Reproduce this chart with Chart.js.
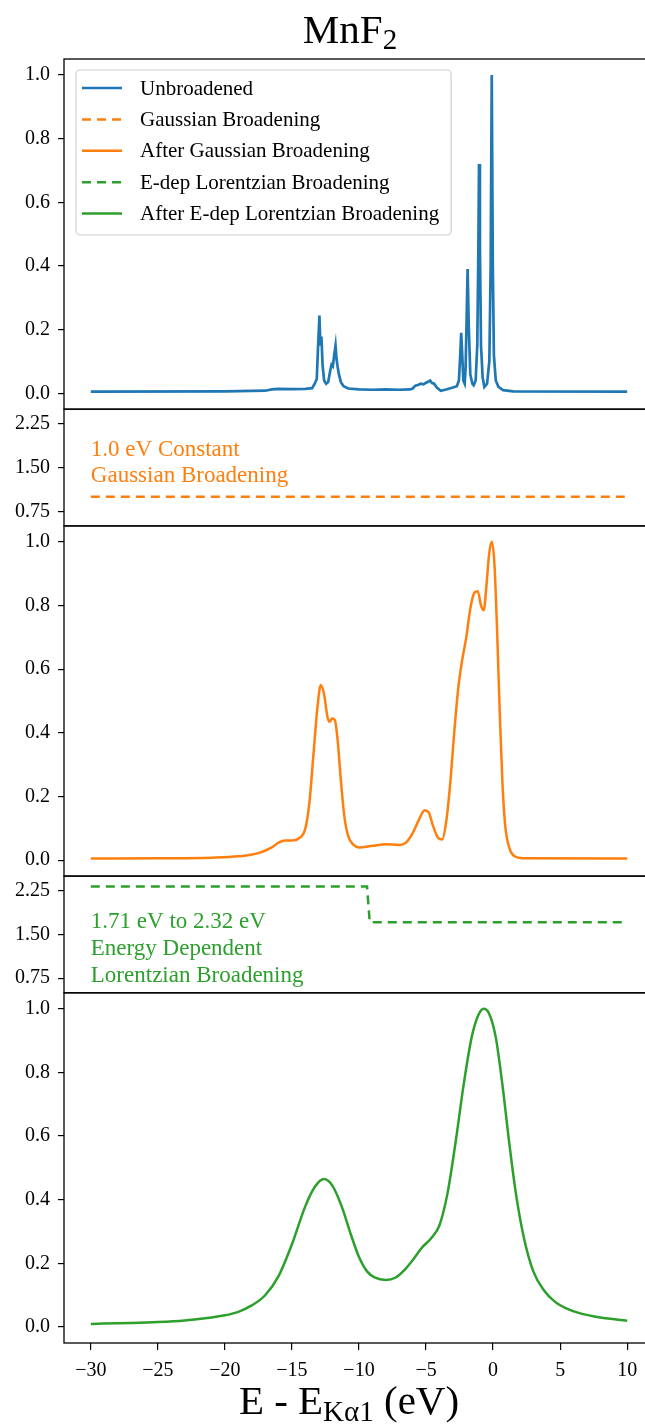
<!DOCTYPE html>
<html>
<head>
<meta charset="utf-8">
<script src="https://cdn.jsdelivr.net/npm/chart.js@4.4.1/dist/chart.umd.min.js"></script>
<style>
  html, body { margin: 0; padding: 0; background: #fff; overflow: hidden; }
  #contenedor { width: 660px; height: 1426px; }
</style>
</head>
<body>
<div id="contenedor"><canvas id="grafico" width="660" height="1426"></canvas></div>
<script>
// --- datos ---
const energiaCruda = [-30, -20, -17, -16.5, -16, -15, -14, -13.5, -13.3, -13.15, -13.05, -12.95, -12.88, -12.8, -12.72, -12.6, -12.45, -12.3, -12.15, -12.05, -11.95, -11.85, -11.75, -11.68, -11.6, -11.5, -11.35, -11.15, -10.8, -10, -9, -8, -7, -6.2, -6.0, -5.8, -5.6, -5.4, -5.2, -5.0, -4.85, -4.7, -4.55, -4.4, -4.2, -3.9, -3.5, -3.0, -2.7, -2.55, -2.45, -2.38, -2.3, -2.22, -2.12, -2.05, -1.98, -1.9, -1.82, -1.7, -1.55, -1.45, -1.3, -1.18, -1.1, -1.05, -0.98, -0.9, -0.78, -0.65, -0.45, -0.28, -0.18, -0.1, -0.02, 0.06, 0.2, 0.4, 0.75, 1.5, 10];
const intensidadCruda = [0.005, 0.006, 0.008, 0.012, 0.014, 0.013, 0.014, 0.016, 0.03, 0.045, 0.15, 0.244, 0.15, 0.178, 0.09, 0.04, 0.03, 0.035, 0.07, 0.09, 0.085, 0.12, 0.15, 0.11, 0.085, 0.06, 0.035, 0.022, 0.015, 0.012, 0.011, 0.012, 0.011, 0.012, 0.015, 0.024, 0.026, 0.03, 0.028, 0.033, 0.036, 0.04, 0.032, 0.03, 0.018, 0.008, 0.012, 0.018, 0.022, 0.04, 0.12, 0.19, 0.12, 0.04, 0.03, 0.08, 0.22, 0.39, 0.22, 0.06, 0.03, 0.025, 0.04, 0.15, 0.45, 0.72, 0.45, 0.15, 0.05, 0.02, 0.03, 0.1, 0.4, 1.0, 0.4, 0.12, 0.04, 0.02, 0.01, 0.006, 0.005];

const energiaGauss = [-30, -25, -21, -19, -17.5, -16.5, -16, -15.5, -15, -14.5, -14, -13.7, -13.4, -13.1, -12.85, -12.6, -12.35, -12.2, -12.0, -11.8, -11.6, -11.35, -11.1, -10.8, -10.4, -10, -9, -8, -7, -6.5, -6, -5.5, -5.1, -4.8, -4.5, -4.1, -3.8, -3.5, -3.2, -2.9, -2.6, -2.3, -2.0, -1.7, -1.4, -1.15, -0.9, -0.7, -0.5, -0.3, -0.1, 0.1, 0.3, 0.5, 0.7, 0.9, 1.2, 1.6, 2.2, 10];
const intensidadGauss = [0.005, 0.006, 0.008, 0.012, 0.022, 0.04, 0.055, 0.062, 0.062, 0.068, 0.1, 0.18, 0.33, 0.48, 0.55, 0.52, 0.45, 0.435, 0.445, 0.44, 0.38, 0.25, 0.14, 0.075, 0.048, 0.04, 0.045, 0.05, 0.048, 0.055, 0.085, 0.13, 0.157, 0.15, 0.11, 0.07, 0.065, 0.12, 0.24, 0.4, 0.54, 0.63, 0.7, 0.79, 0.84, 0.845, 0.8, 0.785, 0.86, 0.96, 1.0, 0.93, 0.72, 0.46, 0.24, 0.11, 0.04, 0.012, 0.006, 0.005];

const energiaLorentz = [-30, -27, -25, -23, -21, -20, -19, -18, -17, -16, -15, -14, -13.3, -12.6, -12, -11.3, -10.6, -10, -9.4, -8.8, -8, -7.3, -6.6, -6, -5.3, -4.6, -4, -3.4, -2.8, -2.2, -1.6, -1.1, -0.7, -0.3, 0.2, 0.7, 1.2, 1.7, 2.3, 3, 3.8, 4.6, 5.5, 6.5, 8, 10];
const intensidadLorentz = [0.01, 0.013, 0.016, 0.021, 0.03, 0.037, 0.048, 0.068, 0.1, 0.16, 0.26, 0.38, 0.44, 0.465, 0.445, 0.38, 0.29, 0.22, 0.175, 0.155, 0.148, 0.155, 0.18, 0.21, 0.25, 0.28, 0.32, 0.42, 0.58, 0.76, 0.91, 0.98, 1.0, 0.985, 0.91, 0.76, 0.58, 0.42, 0.28, 0.175, 0.115, 0.08, 0.058, 0.043, 0.03, 0.02];

const energiaAnchoGauss = [-30, 10];
const anchoGauss = [1.0, 1.0];
const energiaAnchoLorentz = [-30, -9.4, -9.2, 10];
const anchoLorentz = [2.32, 2.32, 1.71, 1.71];

const ticksEnergia = [-30, -25, -20, -15, -10, -5, 0, 5, 10];
const ticksIntensidad = [0, 0.2, 0.4, 0.6, 0.8, 1.0];
const ticksAncho = [0.75, 1.5, 2.25];

const AZUL = '#1f77b4';
const NARANJA = '#ff7f0e';
const VERDE = '#2ca02c';
const FAMILIA = "'Liberation Serif', 'DejaVu Serif', serif";

Chart.defaults.font.family = FAMILIA;
Chart.defaults.color = '#000';

const puntos = (xs, ys) => xs.map((x, i) => ({ x: x, y: ys[i] }));

function ejeY(min, max, ticks, decimales, peso, pesoPila) {
  return {
    type: 'linear', position: 'left', stack: 'paneles', stackWeight: pesoPila, weight: peso,
    min: min, max: max,
    afterBuildTicks: s => { s.ticks = ticks.map(v => ({ value: v })); },
    afterFit: s => { s.width = 64; },
    border: { display: false },
    grid: { drawOnChartArea: false, drawTicks: true, tickLength: 6, color: '#000', lineWidth: 1.2 },
    ticks: { color: '#000', font: { size: 20 }, padding: 8, autoSkip: false, callback: v => Number(v).toFixed(decimales) }
  };
}

function textoSubindice(ctx, partes, cx, y) {
  let total = 0;
  partes.forEach(p => { ctx.font = p.size + 'px ' + FAMILIA; p.w = ctx.measureText(p.t).width; total += p.w; });
  let x = cx - total / 2;
  ctx.textAlign = 'left';
  ctx.textBaseline = 'alphabetic';
  partes.forEach(p => { ctx.font = p.size + 'px ' + FAMILIA; ctx.fillText(p.t, x, y + (p.dy || 0)); x += p.w; });
}

// marcos de cada panel
const marcos = {
  id: 'marcos',
  afterDatasetsDraw(chart) {
    const ctx = chart.ctx, a = chart.chartArea;
    ctx.save();
    ctx.strokeStyle = '#000';
    ctx.lineWidth = 1.3;
    ['yCrudo', 'yAnchoGauss', 'yGauss', 'yAnchoLorentz', 'yLorentz'].forEach(id => {
      const s = chart.scales[id];
      ctx.strokeRect(a.left, s.top, a.right - a.left, s.bottom - s.top);
    });
    ctx.restore();
  }
};

// leyenda dentro del primer panel
const leyenda = {
  id: 'leyenda',
  afterDatasetsDraw(chart) {
    const ctx = chart.ctx;
    const sets = chart.data.datasets;
    ctx.save();
    ctx.font = '21px ' + FAMILIA;
    let maxAncho = 0;
    sets.forEach(d => { maxAncho = Math.max(maxAncho, ctx.measureText(d.label).width); });
    const x0 = 76, y0 = 70, alto = 165, ancho = 140 - x0 + maxAncho + 12;
    ctx.beginPath();
    ctx.roundRect(x0, y0, ancho, alto, 4);
    ctx.fillStyle = 'rgba(255,255,255,0.8)';
    ctx.fill();
    ctx.strokeStyle = '#d0d0d0';
    ctx.lineWidth = 1.2;
    ctx.stroke();
    sets.forEach((d, i) => {
      const y = 88 + i * 31.4;
      ctx.beginPath();
      ctx.setLineDash(d.borderDash || []);
      ctx.strokeStyle = d.borderColor;
      ctx.lineWidth = d.borderWidth;
      ctx.moveTo(82, y);
      ctx.lineTo(122, y);
      ctx.stroke();
      ctx.setLineDash([]);
      ctx.fillStyle = '#000';
      ctx.textAlign = 'left';
      ctx.textBaseline = 'middle';
      ctx.fillText(d.label, 140, y + 1);
    });
    ctx.restore();
  }
};

// titulo, etiqueta del eje x y notas de cada panel
const textos = {
  id: 'textos',
  afterDraw(chart) {
    const ctx = chart.ctx;
    const sx = chart.scales.x;
    ctx.save();
    ctx.fillStyle = '#000';
    textoSubindice(ctx, [{ t: 'MnF', size: 41 }, { t: '2', size: 29, dy: 6 }], 350, 43);
    textoSubindice(ctx, [{ t: 'E - E', size: 41 }, { t: 'Kα1', size: 29, dy: 7 }, { t: ' (eV)', size: 41 }], 349, 1414);

    ctx.font = '23px ' + FAMILIA;
    ctx.textAlign = 'left';
    ctx.textBaseline = 'alphabetic';
    const xNota = sx.getPixelForValue(-30);
    ctx.fillStyle = NARANJA;
    const yG = chart.scales.yAnchoGauss.getPixelForValue(1.7);
    ['1.0 eV Constant', 'Gaussian Broadening'].forEach((t, i) => ctx.fillText(t, xNota, yG + i * 26.5));
    ctx.fillStyle = VERDE;
    const yL = chart.scales.yAnchoLorentz.getPixelForValue(1.61);
    ['1.71 eV to 2.32 eV', 'Energy Dependent', 'Lorentzian Broadening'].forEach((t, i) => ctx.fillText(t, xNota, yL + i * 27));
    ctx.restore();
  }
};

new Chart(document.getElementById('grafico'), {
  type: 'line',
  data: {
    datasets: [
      { label: 'Unbroadened', data: puntos(energiaCruda, intensidadCruda), yAxisID: 'yCrudo',
        borderColor: AZUL, borderWidth: 2.7, tension: 0 },
      { label: 'Gaussian Broadening', data: puntos(energiaAnchoGauss, anchoGauss), yAxisID: 'yAnchoGauss',
        borderColor: NARANJA, borderWidth: 2.5, borderDash: [9, 6] },
      { label: 'After Gaussian Broadening', data: puntos(energiaGauss, intensidadGauss), yAxisID: 'yGauss',
        borderColor: NARANJA, borderWidth: 2.5, cubicInterpolationMode: 'monotone' },
      { label: 'E-dep Lorentzian Broadening', data: puntos(energiaAnchoLorentz, anchoLorentz), yAxisID: 'yAnchoLorentz',
        borderColor: VERDE, borderWidth: 2.5, borderDash: [9, 6] },
      { label: 'After E-dep Lorentzian Broadening', data: puntos(energiaLorentz, intensidadLorentz), yAxisID: 'yLorentz',
        borderColor: VERDE, borderWidth: 2.5, cubicInterpolationMode: 'monotone' }
    ]
  },
  options: {
    responsive: false,
    animation: false,
    devicePixelRatio: 1,
    layout: { padding: { top: 59, left: 0, right: 6, bottom: 0 } },
    elements: { point: { radius: 0 }, line: { fill: false } },
    plugins: { legend: { display: false }, tooltip: { enabled: false }, title: { display: false } },
    scales: {
      x: {
        type: 'linear', position: 'bottom', min: -32, max: 12,
        afterBuildTicks: s => { s.ticks = ticksEnergia.map(v => ({ value: v })); },
        afterFit: s => { s.height = 83; },
        border: { display: false },
        grid: { drawOnChartArea: false, drawTicks: true, tickLength: 7, color: '#000', lineWidth: 1.2 },
        ticks: { color: '#000', font: { size: 20 }, padding: 9, autoSkip: false, maxRotation: 0,
          callback: v => (v < 0 ? '\u2212' + Math.abs(v) : String(v)) }
      },
      yCrudo: ejeY(-0.05, 1.05, ticksIntensidad, 1, 5, 3),
      yAnchoGauss: ejeY(0.5, 2.5, ticksAncho, 2, 4, 1),
      yGauss: ejeY(-0.05, 1.05, ticksIntensidad, 1, 3, 3),
      yAnchoLorentz: ejeY(0.5, 2.5, ticksAncho, 2, 2, 1),
      yLorentz: ejeY(-0.05, 1.05, ticksIntensidad, 1, 1, 3)
    }
  },
  plugins: [marcos, leyenda, textos]
});
</script>
</body>
</html>
